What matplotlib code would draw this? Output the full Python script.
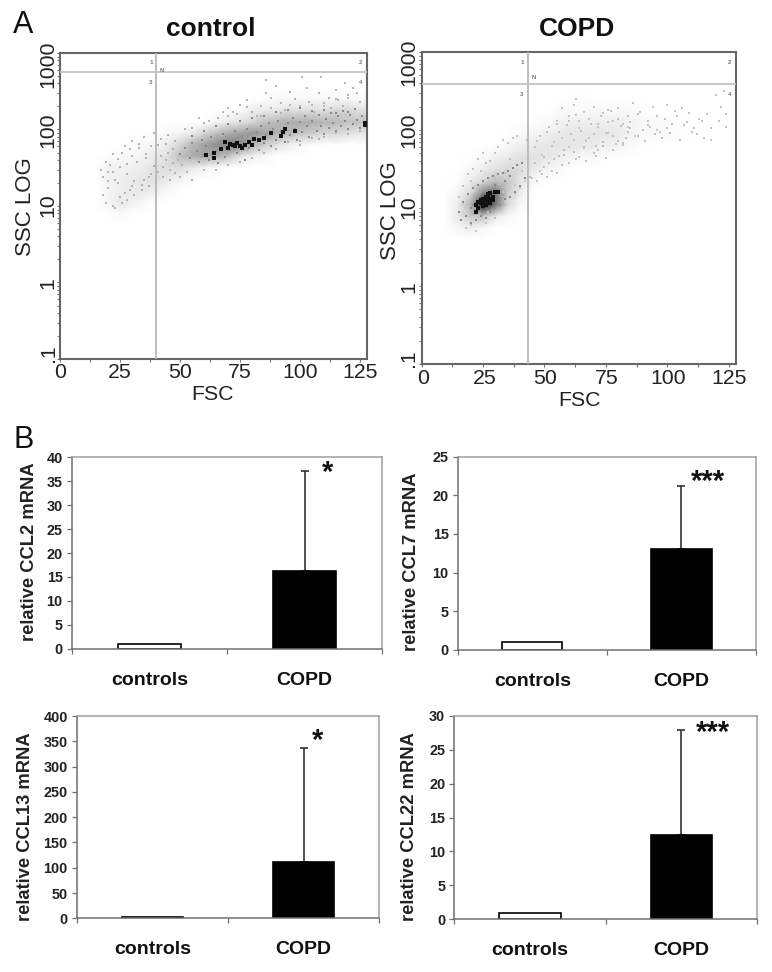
#!/usr/bin/env python3
"""Flow plots (A) and CCL mRNA bars (B), control vs COPD."""

import matplotlib
matplotlib.use("Agg")
import matplotlib.pyplot as plt
import numpy as np
from matplotlib.ticker import LogLocator, NullFormatter, FixedLocator

plt.rcParams["font.family"] = ["Liberation Sans", "DejaVu Sans"]

W, H = 772, 972

# --- panel A: density, 0 = white, 10 = black
FSC_BINS = [10, 15, 20, 25, 30, 35, 40, 45, 50, 55, 60, 65, 70, 75, 80, 85, 90, 95, 100, 105, 110, 115, 120, 125, 130]
SSC_BINS = [4, 5.6, 8, 11, 16, 22, 32, 45, 63, 90, 125, 180, 250, 355]

CONTROL_DENSITY = [
    [0, 0, 0, 0, 0, 0, 0, 0, 0, 0, 0, 0, 0, 0, 0, 0, 0, 0, 0, 0, 0, 0, 0, 0, 0],
    [0, 0, 0, 0, 0, 0, 0, 0, 0, 0, 0, 0, 0, 0, 0, 0, 0, 0, 0, 0, 0, 0, 0, 0, 0],
    [0, 0, 0, .2, 0, 0, 0, 0, 0, 0, 0, 0, 0, 0, 0, 0, 0, 0, 0, 0, 0, 0, 0, 0, 0],
    [0, 0, .3, .9, .6, .2, 0, 0, 0, 0, 0, 0, 0, 0, 0, 0, 0, 0, 0, 0, 0, 0, 0, 0, 0],
    [0, 0, .4, .7, .8, .9, .6, .2, 0, 0, 0, 0, 0, 0, 0, 0, 0, 0, 0, 0, 0, 0, 0, 0, 0],
    [0, 0, .5, .6, .8, 1, 1.2, .8, .4, 0, 0, 0, 0, 0, 0, 0, 0, 0, 0, 0, 0, 0, 0, 0, 0],
    [0, 0, .5, .6, .6, .8, 1.2, 1.3, 1.4, .9, .5, .2, 0, 0, 0, 0, 0, 0, 0, 0, 0, 0, 0, 0, 0],
    [0, 0, 0, .2, .3, .5, .8, 1.3, 2.5, 3.2, 3.6, 3.2, 2.4, 1.2, .6, .3, 0, 0, 0, 0, 0, 0, 0, 0, 0],
    [0, 0, 0, 0, .1, .2, .4, .8, 1.6, 2.8, 3.6, 4.4, 4.8, 4.8, 3.2, 2, 1.2, .6, .3, .1, 0, 0, 0, 0, 0],
    [0, 0, 0, 0, 0, 0, 0, .2, .4, .8, 1.6, 2.4, 3.2, 3.6, 4, 3.6, 3.2, 2.8, 2.4, 2, 1.6, 1.6, 1.2, 1, 1],
    [0, 0, 0, 0, 0, 0, 0, 0, 0, 0, 0, .4, .8, 1.2, 1.6, 2.4, 2.8, 3.2, 3.2, 3.2, 2.8, 2.8, 2.4, 2.4, 2.4],
    [0, 0, 0, 0, 0, 0, 0, 0, 0, 0, 0, 0, 0, 0, .7, .8, .8, 1.2, 1.2, 1.2, 1.2, 1.6, 1.6, 1.2, 1.2],
    [0, 0, 0, 0, 0, 0, 0, 0, 0, 0, 0, 0, 0, 0, 0, .1, .2, .3, .3, .3, .3, .3, .3, .3, .2],
    [0, 0, 0, 0, 0, 0, 0, 0, 0, 0, 0, 0, 0, 0, 0, 0, 0, 0, 0, 0, 0, 0, 0, 0, 0],
]
COPD_DENSITY = [
    [0, 0, 0, 0, 0, 0, 0, 0, 0, 0, 0, 0, 0, 0, 0, 0, 0, 0, 0, 0, 0, 0, 0, 0, 0],
    [0, .4, .7, .3, 0, 0, 0, 0, 0, 0, 0, 0, 0, 0, 0, 0, 0, 0, 0, 0, 0, 0, 0, 0, 0],
    [0, 1, 2.2, 2.5, 1, .3, 0, 0, 0, 0, 0, 0, 0, 0, 0, 0, 0, 0, 0, 0, 0, 0, 0, 0, 0],
    [0, .8, 3, 9, 5.5, 1.5, .3, 0, 0, 0, 0, 0, 0, 0, 0, 0, 0, 0, 0, 0, 0, 0, 0, 0, 0],
    [0, .5, 1.3, 4.5, 5.5, 2, .8, 0, 0, 0, 0, 0, 0, 0, 0, 0, 0, 0, 0, 0, 0, 0, 0, 0, 0],
    [0, .1, .8, 1.6, 2.6, 2.2, 1.1, .3, 0, 0, 0, 0, 0, 0, 0, 0, 0, 0, 0, 0, 0, 0, 0, 0, 0],
    [0, 0, .3, .7, 1.1, 1.5, 1.4, 1, .5, .2, 0, 0, 0, 0, 0, 0, 0, 0, 0, 0, 0, 0, 0, 0, 0],
    [0, 0, 0, .2, .6, .8, 1.1, 1.2, 1, .8, .5, .3, .2, 0, 0, 0, 0, 0, 0, 0, 0, 0, 0, 0, 0],
    [0, 0, 0, 0, 0, .3, .6, .8, .9, 1, 1, .9, .8, .6, .5, .2, 0, 0, 0, 0, 0, 0, 0, 0, 0],
    [0, 0, 0, 0, 0, 0, .2, .4, .6, .8, 1, 1, 1, .9, .8, .5, .3, .2, .2, .1, .1, 0, 0, 0, 0],
    [0, 0, 0, 0, 0, 0, 0, 0, .2, .4, .6, .7, .7, .7, .7, .4, .3, .2, .2, .1, 0, 0, 0, 0, 0],
    [0, 0, 0, 0, 0, 0, 0, 0, 0, .1, .2, .2, .3, .3, .3, .2, .1, 0, 0, 0, 0, 0, 0, 0, 0],
    [0, 0, 0, 0, 0, 0, 0, 0, 0, 0, 0, .1, 0, 0, 0, 0, 0, 0, 0, 0, 0, 0, 0, 0, 0],
    [0, 0, 0, 0, 0, 0, 0, 0, 0, 0, 0, 0, 0, 0, 0, 0, 0, 0, 0, 0, 0, 0, 0, 0, 0],
]

# loose events, estimated
CONTROL_SPARSE_X = [70, 72, 75, 78, 82, 84, 86, 86, 88, 90, 92, 94, 96, 98, 100, 101, 103, 104, 106, 108, 109, 110, 112, 113, 115, 116, 118, 119, 120, 122, 124, 125,
                    66, 68, 62, 60, 58, 55, 52, 70, 74, 78, 80, 84, 88, 92, 96, 100, 105, 110, 115, 120,
                    85, 90, 95, 100, 105, 110, 115, 120, 125, 80, 75, 70, 65, 60, 55, 50, 100, 108,
                    17, 18, 18, 19, 19, 20, 20, 21, 22, 22, 23, 23, 24, 25, 25, 26, 27, 27, 28, 28, 29, 30, 30, 31, 32, 33, 34, 35, 35, 36, 37, 38, 38, 39, 40, 40, 41, 42, 43, 44, 45, 46, 47, 48,
                    30, 33, 36, 28, 26, 24, 22, 20, 44, 46, 42, 48, 34, 37, 31, 29, 43, 41, 39, 47, 49, 51, 53, 45]
CONTROL_SPARSE_Y = [190, 170, 210, 240, 150, 200, 440, 300, 260, 370, 220, 180, 310, 250, 200, 480, 350, 230, 170, 300, 480, 220, 260, 190, 330, 240, 200, 400, 280, 350, 300, 230,
                    140, 170, 130, 120, 140, 105, 100, 150, 160, 195, 170, 150, 190, 165, 210, 190, 210, 200, 250, 260,
                    50, 55, 68, 62, 78, 80, 90, 88, 95, 42, 38, 34, 30, 30, 22, 24, 70, 76,
                    30, 24, 14, 38, 11, 28, 17, 34, 10, 48, 9.5, 22, 41, 13, 32, 11, 15, 60, 12, 26, 55, 18, 70, 14, 38, 65, 16, 80, 22, 48, 18, 60, 26, 90, 20, 35, 28, 75, 24, 40, 85, 30, 55, 27,
                    45, 58, 42, 35, 50, 20, 28, 21, 65, 22, 45, 70, 19, 24, 21, 16, 32, 62, 33, 36, 40, 34, 28, 50]
# mottled grey grains inside the band
CONTROL_MID_X = [50, 52, 54, 55, 57, 58, 59, 60, 61, 62, 63, 65, 66, 67, 68, 69, 71, 72, 73, 74, 76, 77, 78, 79, 80, 82, 83, 84, 85, 86, 87, 88, 89, 90, 91, 92, 94, 95, 96, 97, 98, 99, 100, 101, 102, 103, 104, 105, 107, 108, 109, 110, 111, 112, 113, 114, 115, 116, 117, 118, 119, 120, 121, 122, 123, 124, 125, 126,
                 55, 60, 65, 70, 75, 80, 85, 90, 95, 100, 105, 110, 115, 120]
CONTROL_MID_Y = [48, 58, 42, 66, 52, 38, 72, 46, 60, 40, 80, 52, 36, 70, 88, 44, 54, 76, 96, 50, 82, 40, 100, 58, 72, 92, 54, 110, 66, 84, 120, 60, 100, 74, 130, 92, 68, 120, 84, 140, 102, 74, 125, 92, 150, 110, 80, 130, 96, 155, 112, 88, 138, 105, 165, 122, 95, 150, 112, 175, 130, 100, 155, 118, 185, 135, 105, 150,
                 82, 95, 110, 118, 128, 142, 150, 170, 180, 190, 175, 180, 165, 170]
CONTROL_DARK_X = [64, 64, 61, 72, 73, 75, 70, 69, 79, 80, 85, 88, 93, 94, 98, 92, 83, 81, 74, 76, 71, 67, 77, 127, 127]
CONTROL_DARK_Y = [49, 43, 47, 63, 60, 60, 58, 69, 68, 62, 77, 89, 93, 102, 96, 83, 72, 75, 67, 58, 65, 55, 62, 116, 122]

COPD_SPARSE_X = [55, 57, 60, 62, 63, 64, 66, 68, 70, 72, 74, 76, 78, 80, 82, 84, 85, 86, 88, 90, 92, 94, 95, 96, 98, 100, 102, 104, 105, 106, 108, 110, 112, 114, 115, 116, 118, 118, 120, 121, 122, 123, 124, 124,
                 46, 48, 50, 52, 54, 56, 58, 60, 62, 64, 66, 68, 70, 72, 74, 76, 78, 80, 82, 84, 46, 50, 54, 58, 62, 66, 70, 74, 78, 82,
                 45, 47, 49, 51, 53, 55, 57, 60, 63, 67, 71, 75,
                 15, 16, 17, 18, 19, 20, 21, 22, 23, 24, 25, 26, 27, 28, 30, 31, 32, 33, 34, 35, 36, 37, 38, 39, 40, 41, 42, 43, 44, 20, 24, 18, 26, 30, 34, 38, 36, 33,
                 47, 49, 51, 53, 55, 57, 59, 61, 63, 65, 67, 69, 71, 73, 75, 77, 79, 81, 83, 85, 87, 89, 91, 93, 97, 99, 101, 103, 107, 109, 111, 113,
                 48, 52, 56, 60, 64, 68, 72, 76, 80, 84, 88, 92, 96, 100]
COPD_SPARSE_Y = [120, 190, 150, 210, 250, 130, 170, 140, 200, 120, 165, 180, 130, 190, 120, 150, 105, 220, 160, 100, 130, 200, 90, 150, 80, 210, 120, 150, 75, 190, 125, 95, 90, 130, 80, 160, 105, 75, 280, 130, 200, 320, 160, 110,
                 60, 85, 45, 110, 70, 95, 55, 130, 75, 105, 60, 140, 90, 110, 70, 125, 85, 140, 65, 95, 38, 34, 42, 48, 52, 58, 50, 62, 55, 68,
                 24, 22, 27, 25, 30, 28, 36, 38, 42, 40, 46, 44,
                 14, 7, 19, 5.5, 27, 6, 32, 5, 42, 7, 50, 6.5, 9, 40, 7.5, 60, 11, 75, 12, 68, 14, 80, 15, 85, 18, 30, 22, 75, 25, 22, 30, 10, 38, 50, 28, 20, 42, 16,
                 72, 48, 95, 62, 130, 78, 115, 88, 155, 98, 72, 120, 62, 150, 92, 175, 66, 112, 78, 125, 85, 170, 72, 110, 95, 140, 92, 175, 115, 165, 105, 140,
                 30, 38, 47, 60, 45, 78, 55, 92, 72, 110, 85, 115, 100, 105]
COPD_MID_X = [15, 16, 17, 18, 19, 20, 20, 21, 22, 23, 24, 25, 26, 27, 28, 29, 30, 31, 32, 33, 34, 35, 36, 37, 38, 39, 40, 41, 42, 36, 34, 30, 28]
COPD_MID_Y = [9, 7, 12, 8, 15, 6.5, 10, 18, 7, 20, 8, 22, 7.5, 24, 9, 26, 10, 27, 11, 28, 13, 30, 14, 33, 16, 36, 19, 38, 24, 26, 22, 20, 17]
COPD_DARK_X = [22, 23, 24, 25, 25, 26, 26, 27, 27, 28, 28, 29, 30, 31, 24, 26, 29, 22, 23, 25, 27, 28]
COPD_DARK_Y = [11, 12, 11.5, 10.5, 13, 11, 14, 12, 15, 13, 15.5, 14, 16, 16, 12.5, 12.5, 12.5, 9, 10, 12, 13.5, 11.5]

FSC_TICKS = [0, 25, 50, 75, 100, 125]
FSC_MINOR = [12.5, 37.5, 62.5, 87.5, 112.5]
SSC_TICKS = [.1, 1, 10, 100, 1000]
SSC_LABELS = [".1", "1", "10", "100", "1000"]

# --- panel B
CATEGORIES = ["controls", "COPD"]
CCL2_VALS, CCL2_ERR = [1.0, 16.3], [0, 20.9]
CCL7_VALS, CCL7_ERR = [1.0, 13.0], [0, 8.2]
CCL13_VALS, CCL13_ERR = [2.0, 112], [0, 225]
CCL22_VALS, CCL22_ERR = [1.0, 12.4], [0, 15.5]


def px_axes(fig, left, right, top, bottom):
    return fig.add_axes([left / W, 1 - bottom / H, (right - left) / W, (bottom - top) / H])


def put(fig, x, y, s, **kw):
    kw.setdefault("ha", "center")
    kw.setdefault("va", "center")
    return fig.text(x / W, 1 - y / H, s, **kw)


def flow_panel(fig, box, density, sparse, mid, dark, vgate, hgate, sparse_col):
    ax = px_axes(fig, *box)
    ax.set_yscale("log")
    ax.set_xlim(0, 128)
    ax.set_ylim(.1, 1000)
    ax.pcolormesh(FSC_BINS, SSC_BINS, np.array(density), cmap="gray_r", vmin=0, vmax=10,
                  shading="gouraud", zorder=1)
    ax.scatter(sparse[0], sparse[1], s=4.5, marker="s", color=sparse_col, linewidths=0, zorder=2)
    ax.scatter(mid[0], mid[1], s=4.5, marker="s", color="#8a8a8a", linewidths=0, zorder=2)
    ax.scatter(dark[0], dark[1], s=5, marker="s", color="#111111", linewidths=0, zorder=3)
    ax.axvline(vgate, color="#b8b8b8", lw=1.3, zorder=4)
    ax.axhline(hgate, color="#c4c4c4", lw=1.3, zorder=4)
    for s in ax.spines.values():
        s.set_color("#666666")
        s.set_linewidth(1.5)
    ax.set_xticks(FSC_TICKS)
    ax.xaxis.set_minor_locator(FixedLocator(FSC_MINOR))
    ax.set_yticks(SSC_TICKS)
    ax.yaxis.set_minor_locator(LogLocator(base=10, subs=range(2, 10), numticks=12))
    ax.yaxis.set_minor_formatter(NullFormatter())
    ax.tick_params(which="both", length=2, width=.8, color="#777777", labelleft=False, labelbottom=False)
    return ax


fig = plt.figure(figsize=(W / 100, H / 100), dpi=100, facecolor="white")

ax1 = flow_panel(fig, (60, 367, 53, 359), CONTROL_DENSITY, (CONTROL_SPARSE_X, CONTROL_SPARSE_Y),
                 (CONTROL_MID_X, CONTROL_MID_Y), (CONTROL_DARK_X, CONTROL_DARK_Y), 39.9, 560, "#b4b4b4")
ax2 = flow_panel(fig, (421.7, 736, 52, 364), COPD_DENSITY, (COPD_SPARSE_X, COPD_SPARSE_Y),
                 (COPD_MID_X, COPD_MID_Y), (COPD_DARK_X, COPD_DARK_Y), 43.2, 393, "#c4c4c4")

FS_FLOW = 15.3
TICK_COL = "#222222"
for x0, yb, step, xs, ys in [(60, 373, 2.4, 48, [353, 283, 205, 130, 64]),
                             (423, 378, 2.45, 409, [358, 287, 207, 130, 62])]:
    for t in FSC_TICKS:
        put(fig, x0 + t * step, yb, str(t), fontsize=FS_FLOW, color=TICK_COL)
    for lab, y in zip(SSC_LABELS, ys):
        put(fig, xs, y, lab, fontsize=FS_FLOW, rotation=90, color=TICK_COL)

put(fig, 213, 395, "FSC", fontsize=FS_FLOW, color=TICK_COL)
put(fig, 579, 400, "FSC", fontsize=FS_FLOW, color=TICK_COL)
put(fig, 26, 207, "SSC LOG", fontsize=16, rotation=90, color=TICK_COL)
put(fig, 390, 211, "SSC LOG", fontsize=16, rotation=90, color=TICK_COL)
put(fig, 211, 29, "control", fontsize=19, fontweight="bold", color="#111111")
put(fig, 577, 29, "COPD", fontsize=19, fontweight="bold", color="#111111")
put(fig, 23, 25, "A", fontsize=22, color="#111111")
put(fig, 24, 440, "B", fontsize=22, color="#111111")

# quadrant numbers
for x, y, s in [(151, 63, "1"), (361, 63, "2"), (151, 83, "3"), (361, 83, "4"), (162, 70, "N"),
                (522, 63, "1"), (730, 63, "2"), (522, 94, "3"), (730, 94, "4"), (534, 77, "N")]:
    put(fig, x, y, s, fontsize=4.5, color="#777777", fontweight="bold")


def bar_panel(box, vals, err, ymax, step, ylabel, ylab_pos, star, star_pos, cat_y):
    ax = px_axes(fig, *box)
    ax.set_xlim(.5, 2.5)
    ax.set_ylim(0, ymax)
    ax.bar([1, 2], vals, width=.404, color=["white", "black"], edgecolor="black", linewidth=1.2, zorder=2)
    ax.errorbar([2], [vals[1]], yerr=[[0], [err[1]]], color="#333333", elinewidth=1.2,
                capsize=3, capthick=1.2, zorder=1, fmt="none")
    for name in ("top", "right"):
        ax.spines[name].set_color("#a0a0a0")
    for name in ("left", "bottom"):
        ax.spines[name].set_color("#707070")
    for s in ax.spines.values():
        s.set_linewidth(1.1)
    ax.set_yticks(np.arange(0, ymax + step, step))
    ax.set_xticks([.5, 1.5, 2.5])
    ax.set_xticklabels([])
    ax.tick_params(axis="both", length=3.5, width=.9, color="#707070")
    ax.tick_params(axis="y", labelsize=10.4, pad=3, labelcolor="#222222")
    for lab in ax.get_yticklabels():
        lab.set_fontweight("bold")
    mid = (box[0] + box[1]) / 2
    width = box[1] - box[0]
    for c, frac in zip(CATEGORIES, (-.25, .25)):
        put(fig, mid + frac * width, cat_y, c, fontsize=14, fontweight="bold", color="#111111")
    put(fig, ylab_pos[0], ylab_pos[1], ylabel, fontsize=13.2, fontweight="bold", rotation=90, color="#222222")
    put(fig, star_pos[0], star_pos[1] + 11, star, fontsize=21, fontweight="bold", va="baseline", color="#111111")
    return ax


bar_panel((71.7, 382.3, 457.3, 648.7), CCL2_VALS, CCL2_ERR, 40, 5, "relative CCL2 mRNA", (30, 552), "*", (328, 470), 680)
bar_panel((457.7, 756, 456.7, 649.7), CCL7_VALS, CCL7_ERR, 25, 5, "relative CCL7 mRNA", (412, 562), "***", (707.7, 479), 681)
bar_panel((76.7, 379.3, 716, 918.3), CCL13_VALS, CCL13_ERR, 400, 50, "relative CCL13 mRNA", (26, 827), "*", (318, 738), 949)
bar_panel((454.3, 757, 715.7, 919.3), CCL22_VALS, CCL22_ERR, 30, 5, "relative CCL22 mRNA", (409, 827), "***", (712.7, 730), 950)

fig.savefig("out.png", dpi=100)
